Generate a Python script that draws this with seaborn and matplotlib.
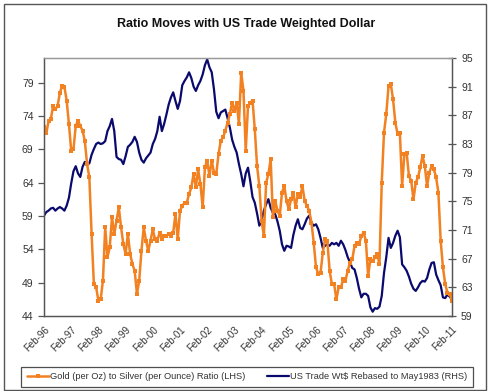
import numpy as np
import pandas as pd
import matplotlib
matplotlib.use("Agg")
import matplotlib.pyplot as plt
import seaborn as sns
from matplotlib.patches import Rectangle

# ---- data (monthly, Feb-96 .. Feb-11) ----
ratio = [72.3, 71.4, 73.2, 73.5, 75.5, 75.0, 75.5, 77.5, 78.5, 78.4, 76.3, 72.8,
         68.8, 69.0, 72.5, 73.3, 72.5, 71.8, 70.3, 66.8, 64.8, 56.3, 48.8, 48.3,
         46.3, 46.5, 49.3, 57.3, 52.8, 54.3, 58.8, 56.3, 58.3, 60.3, 57.3, 54.8,
         53.3, 56.3, 53.3, 51.8, 50.8, 47.3, 49.3, 53.8, 57.3, 55.3, 53.8, 55.3,
         57.0, 55.5, 55.3, 56.5, 55.5, 56.0, 56.0, 56.3, 56.0, 56.5, 59.3, 55.5,
         59.8, 60.5, 61.0, 61.0, 62.3, 63.3, 65.3, 63.3, 66.0, 63.8, 60.3, 66.3,
         67.3, 65.0, 67.3, 65.5, 65.3, 68.3, 70.3, 70.8, 71.8, 73.0, 74.3, 76.0,
         74.8, 76.0, 72.8, 80.5, 77.8, 68.8, 75.5, 76.0, 76.3, 72.0, 66.5, 63.5,
         58.3, 56.0, 64.0, 65.3, 67.5, 58.8, 61.3, 59.8, 59.0, 62.5, 63.5, 61.3,
         60.0, 61.5, 62.5, 60.3, 62.3, 61.8, 63.5, 61.3, 60.5, 59.8, 58.0, 55.0,
         51.3, 50.3, 50.5, 53.5, 55.5, 55.3, 50.8, 48.8, 48.8, 46.5, 48.3, 48.3,
         49.5, 49.3, 50.8, 52.0, 52.5, 54.5, 55.0, 54.8, 56.0, 56.5, 55.3, 50.0,
         52.5, 52.3, 52.8, 53.3, 51.8, 64.0, 71.5, 74.3, 78.5, 78.8, 76.5, 73.0,
         71.3, 71.5, 63.5, 68.3, 68.5, 65.0, 64.3, 61.5, 64.0, 64.8, 66.3, 68.0,
         66.5, 63.5, 65.5, 66.5, 66.0, 64.8, 62.5, 55.3, 51.3, 48.8, 47.5, 47.3,
         46.3]

usd = [73.0, 73.5, 73.7, 74.0, 74.1, 73.7, 74.0, 74.2, 74.0, 73.7, 74.4, 75.5,
       77.5, 79.2, 79.9, 78.9, 78.4, 79.8, 80.5, 80.2, 80.3, 81.5, 82.3, 83.0,
       83.2, 83.0, 83.1, 83.4, 84.8, 85.5, 86.5, 84.8, 81.2, 80.9, 80.8, 80.2,
       81.3, 82.6, 82.9, 83.3, 84.0, 83.3, 81.8, 80.8, 80.4, 81.0, 81.4, 81.8,
       83.0, 83.7, 84.8, 86.8, 84.8, 85.8, 87.1, 88.5, 89.5, 90.2, 89.0, 87.9,
       89.0, 91.2, 91.8, 92.3, 93.0, 92.2, 91.0, 90.4, 91.2, 91.8, 92.7, 94.0,
       94.8, 93.7, 93.0, 90.6, 87.5, 86.6, 87.4, 87.6, 87.8, 86.6, 85.3, 83.6,
       82.6, 81.8, 80.2, 78.8, 77.1, 78.9, 79.7, 77.8, 75.6, 74.8, 73.3, 71.6,
       72.3, 73.7, 74.6, 75.3, 74.1, 73.4, 73.2, 72.2, 70.9, 69.0, 68.1, 68.8,
       68.7, 68.5, 70.3, 71.6, 72.5, 71.3, 71.1, 71.8, 72.6, 73.0, 72.0, 71.6,
       71.8, 71.1, 69.9, 68.5, 68.8, 69.0, 68.8, 69.2, 69.0, 69.2, 68.8, 69.5,
       69.0, 68.2, 67.2, 66.5, 65.7, 65.5, 64.3, 62.8, 61.6, 62.1, 62.1, 61.8,
       60.2, 59.6, 60.1, 60.0, 60.3, 61.8, 65.0, 67.2, 69.9, 68.5, 69.2, 70.2,
       70.9, 70.0, 66.2, 65.8, 65.3, 64.5, 63.5, 62.8, 62.5, 63.0, 63.6, 63.9,
       63.8, 64.3, 65.5, 66.4, 66.5, 64.8, 64.0, 63.3, 61.6, 61.5, 62.0, 61.7,
       61.3]

tick_labels = ["Feb-96", "Feb-97", "Feb-98", "Feb-99", "Feb-00", "Feb-01", "Feb-02",
               "Feb-03", "Feb-04", "Feb-05", "Feb-06", "Feb-07", "Feb-08", "Feb-09",
               "Feb-10", "Feb-11"]
left_ticks = [44, 49, 54, 59, 64, 69, 74, 79]
right_ticks = [59, 63, 67, 71, 75, 79, 83, 87, 91, 95]

title = "Ratio Moves with US Trade Weighted Dollar"
label_ratio = "Gold (per Oz) to Silver (per Ounce) Ratio (LHS)"
label_usd = "US Trade Wt$ Rebased to May1983 (RHS)"

df = pd.DataFrame({"month": np.arange(len(ratio)), "ratio": ratio, "usd": usd})

sns.set_theme(style="white")
plt.rcParams["font.family"] = ["Liberation Sans", "DejaVu Sans"]

ORANGE = "#F28121"
NAVY = "#0A0A6E"
AXC = "#555555"
TXT = "#333333"

W, H = 490, 391
fig = plt.figure(figsize=(W / 100, H / 100), dpi=100)
ax = fig.add_axes([44 / W, 1 - 316 / H, (452 - 44) / W, (316 - 58) / H])
ax2 = ax.twinx()

sns.lineplot(data=df, x="month", y="ratio", ax=ax, color=ORANGE, linewidth=1.8,
             marker="s", markersize=2.6, markeredgewidth=0, label=label_ratio, legend=False)
sns.lineplot(data=df, x="month", y="usd", ax=ax2, color=NAVY, linewidth=1.6,
             label=label_usd, legend=False)

ax.set_xlim(0, 180)
ax.set_ylim(44, 82.7)
ax2.set_ylim(59, 95)
ax.set_yticks(left_ticks)
ax2.set_yticks(right_ticks)
ax.set_xticks(np.arange(0, 181, 12))
ax.set_xticklabels(tick_labels, rotation=45, ha="right", rotation_mode="anchor")
ax.set_xlabel("")
ax.set_ylabel("")
ax2.set_ylabel("")

for a in (ax, ax2):
    for s in a.spines.values():
        s.set_color(AXC)
        s.set_linewidth(0.9)
    a.spines["top"].set_color("#999999")
    a.tick_params(axis="both", which="major", labelsize=7.5, colors=TXT,
                  length=4, width=0.9, direction="out")
    a.tick_params(axis="both", color=AXC)
    a.grid(False)
ax.tick_params(axis="x", labelsize=7, pad=2)
ax2.tick_params(axis="y", direction="inout", length=6)

# put orange line above navy line
ax.set_zorder(ax2.get_zorder() + 1)
ax.patch.set_visible(False)

fig.text(246 / W, 1 - 24 / H, title, ha="center", va="center", fontsize=9,
         fontweight="bold", color="#111111")

h1, l1 = ax.get_legend_handles_labels()
h2, l2 = ax2.get_legend_handles_labels()
leg = fig.legend(h1 + h2, l1 + l2, loc="lower left",
                 bbox_to_anchor=(21 / W, 1 - 387 / H, (473 - 21) / W, 20 / H),
                 mode="expand", ncol=2, fontsize=6.7, frameon=True, fancybox=False,
                 edgecolor="#222222", borderpad=0.6, borderaxespad=0.0,
                 handlelength=2.4, handletextpad=0.15, columnspacing=0.5)
leg.get_frame().set_linewidth(0.9)
for t in leg.get_texts():
    t.set_color(TXT)

fig.patches.append(Rectangle((4 / W, 1 / H), (486 - 4) / W, (387 - 1) / H,
                             transform=fig.transFigure, fill=False,
                             edgecolor="#555555", linewidth=1.0))

fig.savefig("out.png", dpi=100)
